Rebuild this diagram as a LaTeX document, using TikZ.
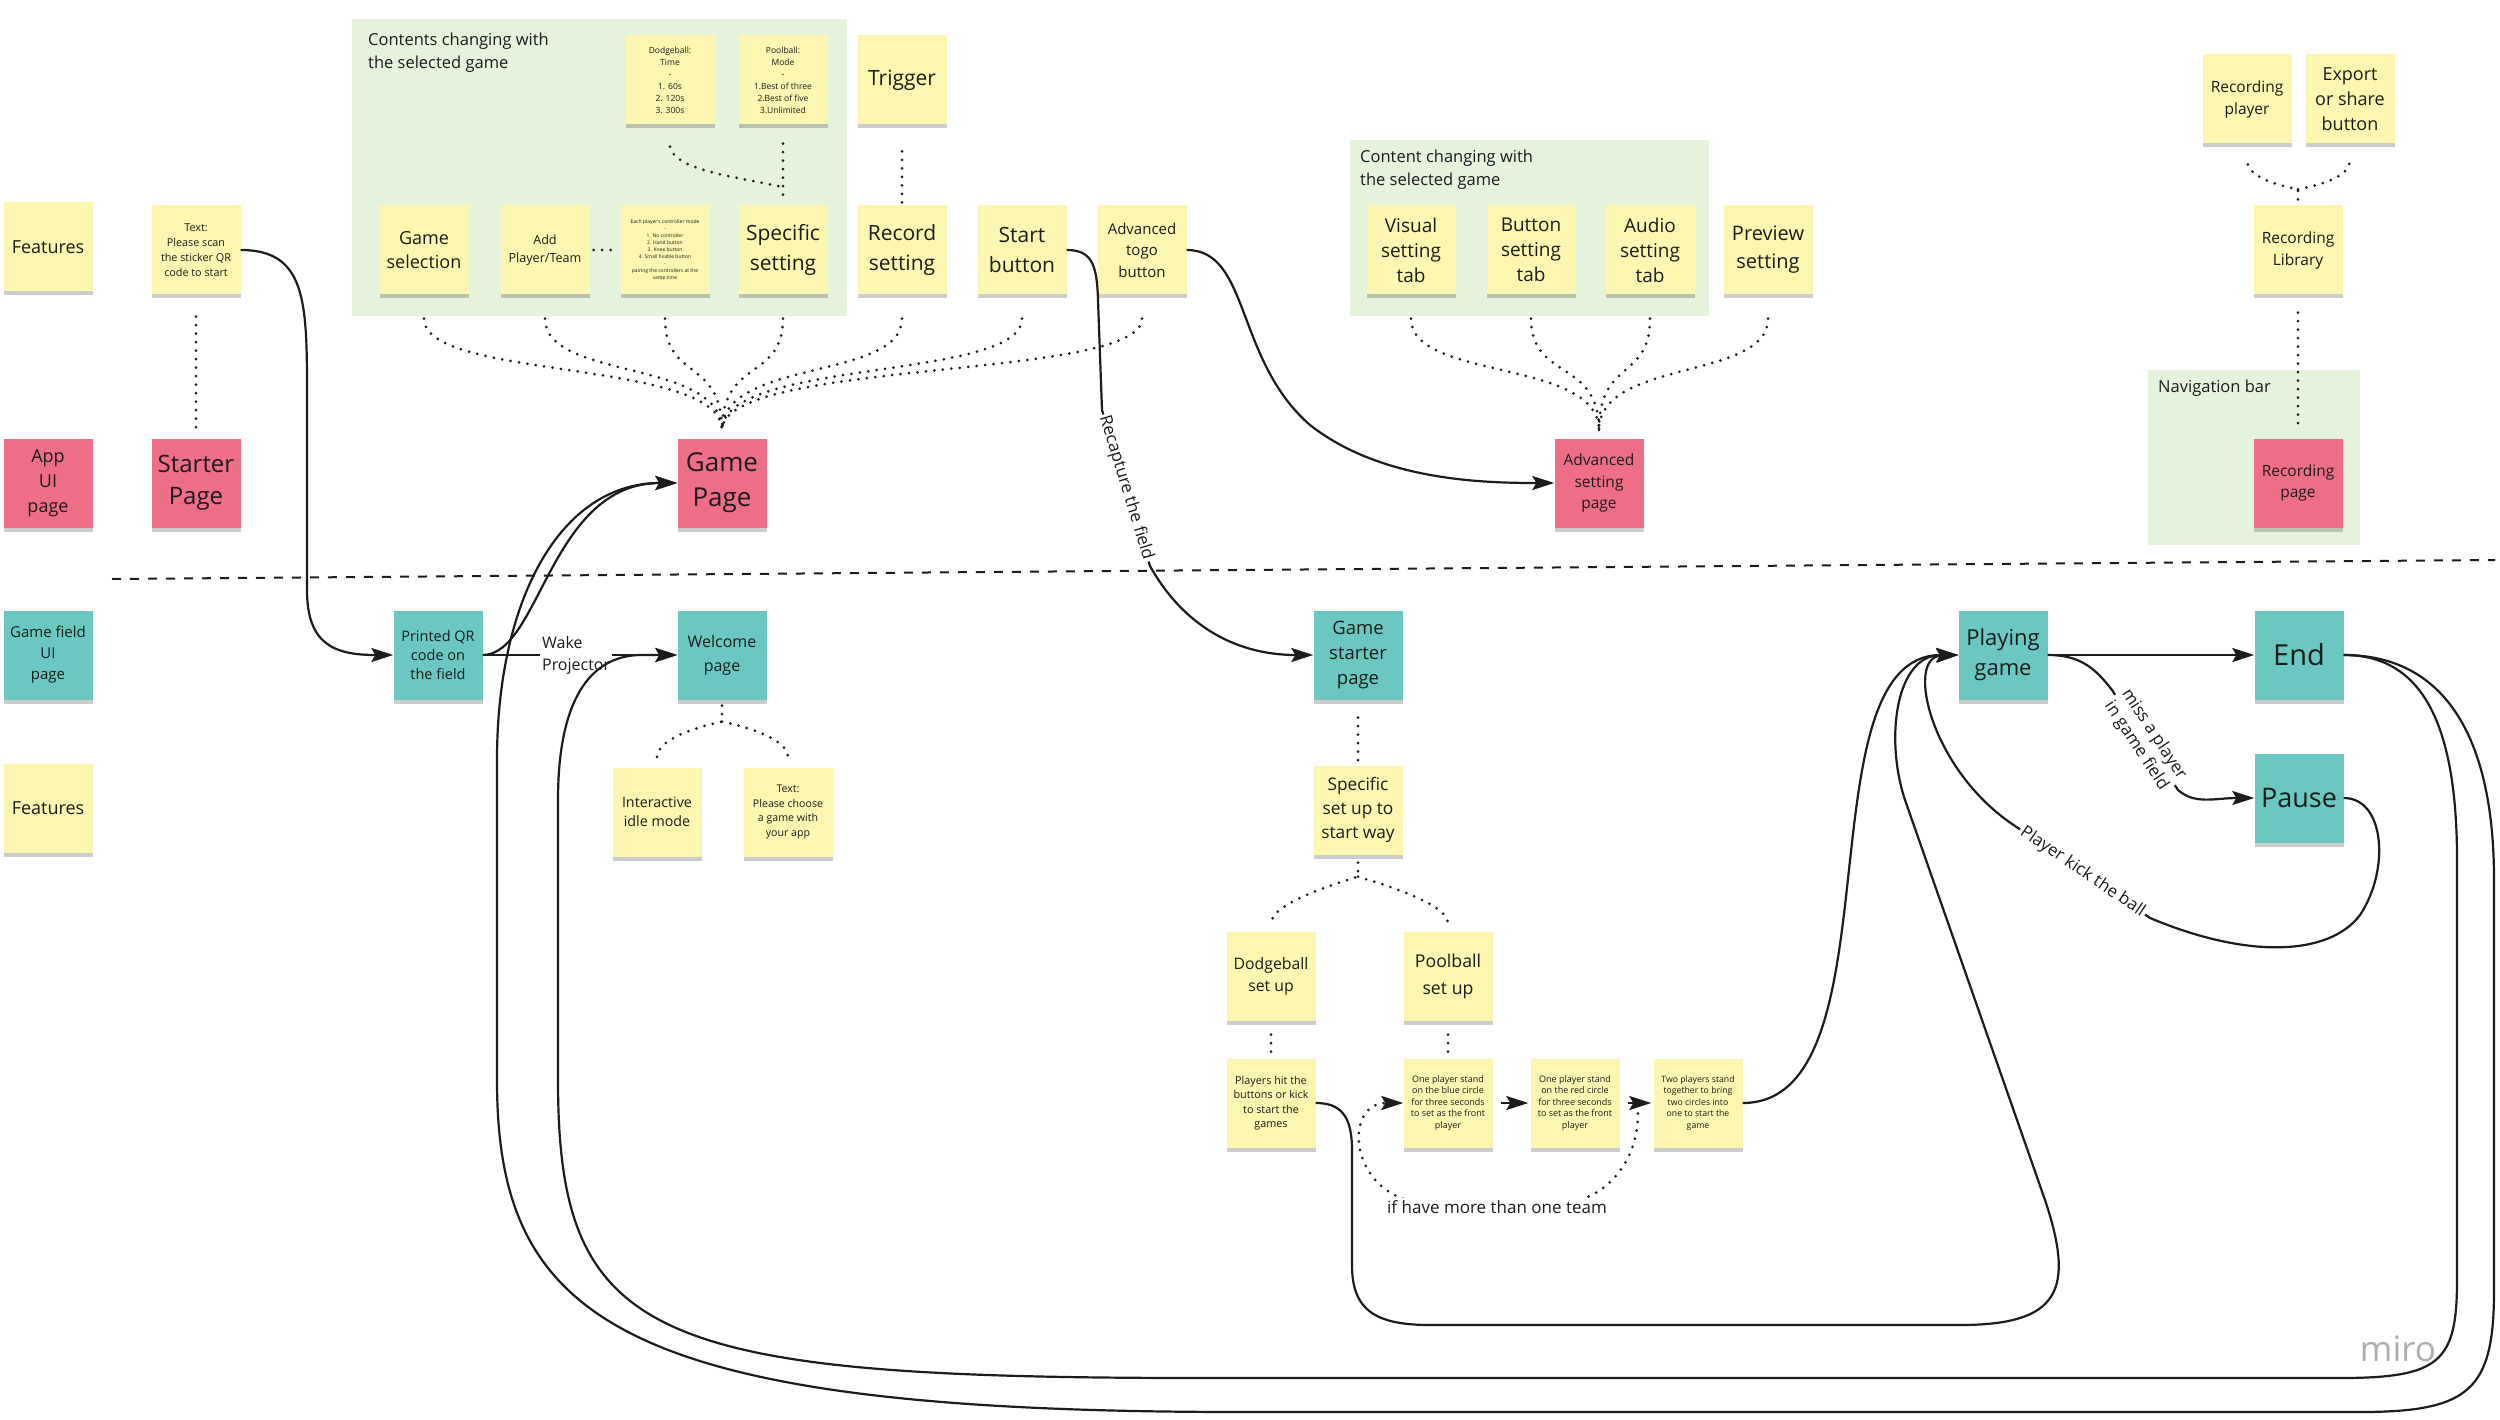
\documentclass[tikz,border=0pt]{standalone}
\usepackage{fontspec}
\setmainfont{Open Sans}
\usetikzlibrary{arrows.meta,shadows,calc}
\definecolor{yel}{HTML}{FDF6B0}
\definecolor{pnk}{HTML}{EE6F85}
\definecolor{tea}{HTML}{6AC8C1}
\definecolor{frm}{HTML}{E5F3DB}
\definecolor{ink}{HTML}{1C1C1C}
\newcommand{\myfz}[2]{\fontsize{#1}{#2}\selectfont}
\begin{document}
\begin{tikzpicture}[x=1pt,y=-1pt,
  note/.style={minimum width=89pt,minimum height=89pt,inner sep=1pt,align=center,text=ink,
    drop shadow={shadow xshift=0pt,shadow yshift=-4pt,opacity=0.2,fill=black}},
  yn/.style={note,fill=yel},
  pn/.style={note,fill=pnk},
  tn/.style={note,fill=tea},
  conn/.style={draw=ink,line width=2.2pt},
  arr/.style={conn,-{Stealth[length=22pt,width=14pt,inset=4pt]}},
  dotl/.style={draw=ink,line width=3pt,line cap=round,dash pattern=on 0pt off 8.5pt},
  dotarr/.style={dotl,-{Stealth[length=22pt,width=14pt,inset=4pt]}},
  lab/.style={fill=white,inner sep=2pt,text=ink,font=\myfz{17}{22}},
  ftitle/.style={anchor=north west,align=left,text=ink,font=\myfz{16.5}{23},inner sep=0pt}]
\useasboundingbox (0,0) rectangle (2500,1420);
\fill[white] (0,0) rectangle (2500,1420);

% frames
\fill[frm] (352,19) rectangle (847,316);
\fill[frm] (1350,140) rectangle (1709,316);
\fill[frm] (2148,370) rectangle (2360,545);
\node[ftitle] (t1) at (368,33) {Contents changing with\\the selected game};
\node[ftitle] (t2) at (1360,150) {Content changing with\\the selected game};
\node[ftitle] (t3) at (2158,380) {Navigation bar};

% separator
\coordinate (sepL) at (112,579);
\coordinate (sepR) at (2495,560);
\draw[draw=ink,line width=2pt,dash pattern=on 9pt off 9pt] (sepL) -- (sepR);

% notes
\node[yn,font=\myfz{18}{23}] (feat1) at (48,247) {Features};
\node[pn,font=\myfz{18}{25}] (appui) at (48,483) {App\\UI\\page};
\node[tn,font=\myfz{15}{21}] (gfui) at (48,655) {Game field\\UI\\page};
\node[yn,font=\myfz{18}{23}] (feat2) at (48,808) {Features};
\node[yn,font=\myfz{10.8}{15}] (scan) at (196,250) {Text:\\Please scan\\the sticker QR\\code to start};
\node[pn,font=\myfz{24}{32}] (starter) at (196,483) {Starter\\Page};
\node[tn,font=\myfz{14.5}{19}] (qr) at (438,655) {Printed QR\\code on\\the field};
\node[yn,font=\myfz{18}{24}] (gsel) at (424,250) {Game\\selection};
\node[yn,font=\myfz{12.6}{18}] (addp) at (545,250) {Add\\Player/Team};
\node[yn,font=\myfz{5}{7}] (ctrl) at (665,250) {Each player's controller mode\\-\\1. No controller\\2. Hand button\\3. Knee button\\4. Small fixable button\\-\\pairing the controllers at the\\same time};
\node[yn,font=\myfz{21}{30}] (spec) at (783,250) {Specific\\setting};
\node[yn,font=\myfz{8.5}{12}] (dodge) at (670,80) {Dodgeball:\\Time\\-\\1. 60s\\2. 120s\\3. 300s};
\node[yn,font=\myfz{8.5}{12}] (pool) at (783,80) {Poolball:\\Mode\\-\\1.Best of three\\2.Best of five\\3.Unlimited};
\node[yn,font=\myfz{21}{30}] (trig) at (902,80) {Trigger};
\node[yn,font=\myfz{21}{30}] (rec) at (902,250) {Record\\setting};
\node[yn,font=\myfz{21}{30}] (startb) at (1022,250) {Start\\button};
\node[yn,font=\myfz{15}{21.5}] (togo) at (1142,250) {Advanced\\togo\\button};
\node[pn,font=\myfz{26}{35}] (gp) at (722,483) {Game\\Page};
\node[tn,font=\myfz{16}{24}] (wel) at (722,655) {Welcome\\page};
\node[yn,font=\myfz{14.3}{19}] (idle) at (657,812) {Interactive\\idle mode};
\node[yn,font=\myfz{10.6}{14.5}] (choose) at (788,812) {Text:\\Please choose\\a game with\\your app};
\node[yn,font=\myfz{19}{25}] (vis) at (1411,250) {Visual\\setting\\tab};
\node[yn,font=\myfz{19}{25}] (btn) at (1531,250) {Button\\setting\\tab};
\node[yn,font=\myfz{19}{25}] (aud) at (1650,250) {Audio\\setting\\tab};
\node[yn,font=\myfz{20}{28}] (prev) at (1768,250) {Preview\\setting};
\node[pn,font=\myfz{15.5}{21.5}] (asp) at (1599,483) {Advanced\\setting\\page};
\node[yn,font=\myfz{15.5}{22}] (recp) at (2247,99) {Recording\\player};
\node[yn,font=\myfz{18}{25}] (expo) at (2350,99) {Export\\or share\\button};
\node[yn,font=\myfz{15.5}{22}] (reclib) at (2298,250) {Recording\\Library};
\node[pn,font=\myfz{15.5}{21}] (recpage) at (2298,483) {Recording\\page};
\node[tn,font=\myfz{18.5}{25}] (gs) at (1358,655) {Game\\starter\\page};
\node[yn,font=\myfz{17.3}{24}] (ssu) at (1358,810) {Specific\\set up to\\start way};
\node[yn,font=\myfz{15.8}{22}] (dsu) at (1271,976) {Dodgeball\\set up};
\node[yn,font=\myfz{17.7}{27}] (psu) at (1448,976) {Poolball\\set up};
\node[yn,font=\myfz{10.8}{14.5}] (ph) at (1271,1103) {Players hit the\\buttons or kick\\to start the\\games};
\node[yn,font=\myfz{9}{11.6}] (blue) at (1448,1103) {One player stand\\on the blue circle\\for three seconds\\to set as the front\\player};
\node[yn,font=\myfz{9}{11.6}] (red) at (1575,1103) {One player stand\\on the red circle\\for three seconds\\to set as the front\\player};
\node[yn,font=\myfz{8.7}{11.6}] (two) at (1698,1103) {Two players stand\\together to bring\\two circles into\\one to start the\\game};
\node[tn,font=\myfz{22}{30}] (play) at (2003,655) {Playing\\game};
\node[tn,font=\myfz{29}{36}] (endn) at (2299,655) {End};
\node[tn,font=\myfz{27}{36}] (pause) at (2299,798) {Pause};
\node[text=black!32,font=\myfz{35}{40}] (miro) at (2398,1349) {miro};

% dotted links
\draw[dotl,shorten <=22pt,shorten >=4pt] (scan.south) -- (starter.north);
\foreach \s in {gsel,addp,ctrl,spec,rec,startb,togo}{
  \draw[dotl] ($(\s.south)+(0,24)$) .. controls +(0,62) and +(0,-72) .. ($(gp.north)+(0,-8)$);
}
\foreach \s in {vis,btn,aud,prev}{
  \draw[dotl] ($(\s.south)+(0,24)$) .. controls +(0,62) and +(0,-72) .. ($(asp.north)+(0,-8)$);
}
\draw[dotl] ($(pool.south)+(0,19)$) -- ($(spec.north)+(0,-4)$);
\draw[dotl] ($(dodge.south)+(0,22)$) .. controls +(5,25) and +(-40,-10) .. ($(spec.north)+(0,-18)$);
\draw[dotl,shorten <=4pt,shorten >=4pt] (addp.east) -- (ctrl.west);
\draw[dotl,shorten <=3pt,shorten >=20pt] (rec.north) -- (trig.south);
\draw[dotl] ($(wel.south)+(0,6)$) -- ($(wel.south)+(0,22)$) .. controls +(-25,5) and +(0,-18) .. ($(idle.north)+(0,-10)$);
\draw[dotl] ($(wel.south)+(0,22)$) .. controls +(25,5) and +(0,-18) .. ($(choose.north)+(0,-10)$);
\draw[dotl,shorten <=18pt,shorten >=4pt] (gs.south) -- (ssu.north);
\draw[dotl] ($(ssu.south)+(0,8)$) -- ($(ssu.south)+(0,22)$) .. controls +(-20,6) and +(0,-20) .. ($(dsu.north)+(0,-8)$);
\draw[dotl] ($(ssu.south)+(0,22)$) .. controls +(20,6) and +(0,-20) .. ($(psu.north)+(0,-8)$);
\draw[dotl,shorten <=14pt,shorten >=4pt] (dsu.south) -- (ph.north);
\draw[dotl,shorten <=14pt,shorten >=4pt] (psu.south) -- (blue.north);
\draw[dotl] ($(reclib.north)+(0,-6)$) -- ($(reclib.north)+(0,-16)$) .. controls +(-20,-4) and +(0,18) .. ($(recp.south)+(0,16)$);
\draw[dotl] ($(reclib.north)+(0,-16)$) .. controls +(20,-4) and +(0,18) .. ($(expo.south)+(0,16)$);
\draw[dotl,shorten <=18pt,shorten >=8pt] (reclib.south) -- (recpage.north);

% solid connectors
\draw[arr] (scan.east) .. controls (305,250) and (307,300) .. (307,390) -- (307,590) .. controls (307,645) and (335,655) .. (qr.west);
\draw[arr] (qr.east) -- node[lab,align=left,font=\myfz{16}{22},pos=0.48] (wake) {Wake\\Projector} (wel.west);
\draw[arr] (qr.east) .. controls (540,655) and (550,483) .. (gp.west);
\draw[arr] (startb.east) .. controls (1092,250) and (1097,265) .. (1098,300) -- (1102,410)
  -- node[lab,sloped] (recap) {Recapture the field} (1150,566) .. controls (1180,620) and (1230,655) .. (gs.west);
\draw[arr] (togo.east) .. controls (1250,250) and (1235,360) .. (1310,425) .. controls (1380,480) and (1480,483) .. (asp.west);
\draw[arr,shorten <=8pt,shorten >=2pt] (blue.east) -- (red.west);
\draw[arr,shorten <=8pt,shorten >=2pt] (red.east) -- (two.west);
\draw[dotarr] ($(red.east)+(18,2)$) .. controls +(4,60) and +(40,0) .. (1560,1203) -- (1430,1203) .. controls (1350,1203) and (1340,1103) .. (blue.west);
\node[lab] (team) at (1497,1207) {if have more than one team};
\draw[arr] (two.east) .. controls (1900,1103) and (1800,655) .. (play.west);
\draw[arr] (ph.east) .. controls (1340,1103) and (1352,1115) .. (1352,1150) -- (1352,1265) .. controls (1352,1310) and (1375,1325) .. (1430,1325) -- (1960,1325) .. controls (2060,1325) and (2075,1290) .. (2045,1200) -- (1905,800) .. controls (1885,740) and (1895,655) .. (play.west);
\draw[arr] (play.east) -- (endn.west);
\draw[arr] (play.east) .. controls (2080,655) and (2095,668) .. (2112,690) -- node[lab,sloped,align=center,font=\myfz{17}{21}] (miss) {miss a player\\in game field} (2178,790) .. controls (2195,805) and (2215,798) .. (pause.west);
\draw[arr] (pause.east) .. controls (2385,798) and (2390,870) .. (2360,915) .. controls (2330,955) and (2250,960) .. (2150,918) -- node[lab,sloped] (kick) {Player kick the ball} (2015,826) .. controls (1930,770) and (1905,657) .. (play.west);
\draw[arr] (endn.east) .. controls (2420,655) and (2457,720) .. (2457,860) -- (2457,1280) .. controls (2457,1362) and (2440,1378) .. (2340,1378) -- (1200,1378) .. controls (650,1378) and (558,1340) .. (558,1080) -- (558,800) .. controls (558,700) and (590,656) .. (640,655) -- (wel.west);
\draw[arr] (endn.east) .. controls (2440,655) and (2494,730) .. (2494,880) -- (2494,1290) .. controls (2494,1390) and (2470,1412) .. (2360,1412) -- (1240,1412) .. controls (620,1412) and (497,1320) .. (497,1080) -- (497,760) .. controls (497,600) and (560,483) .. (gp.west);
\end{tikzpicture}
\end{document}
